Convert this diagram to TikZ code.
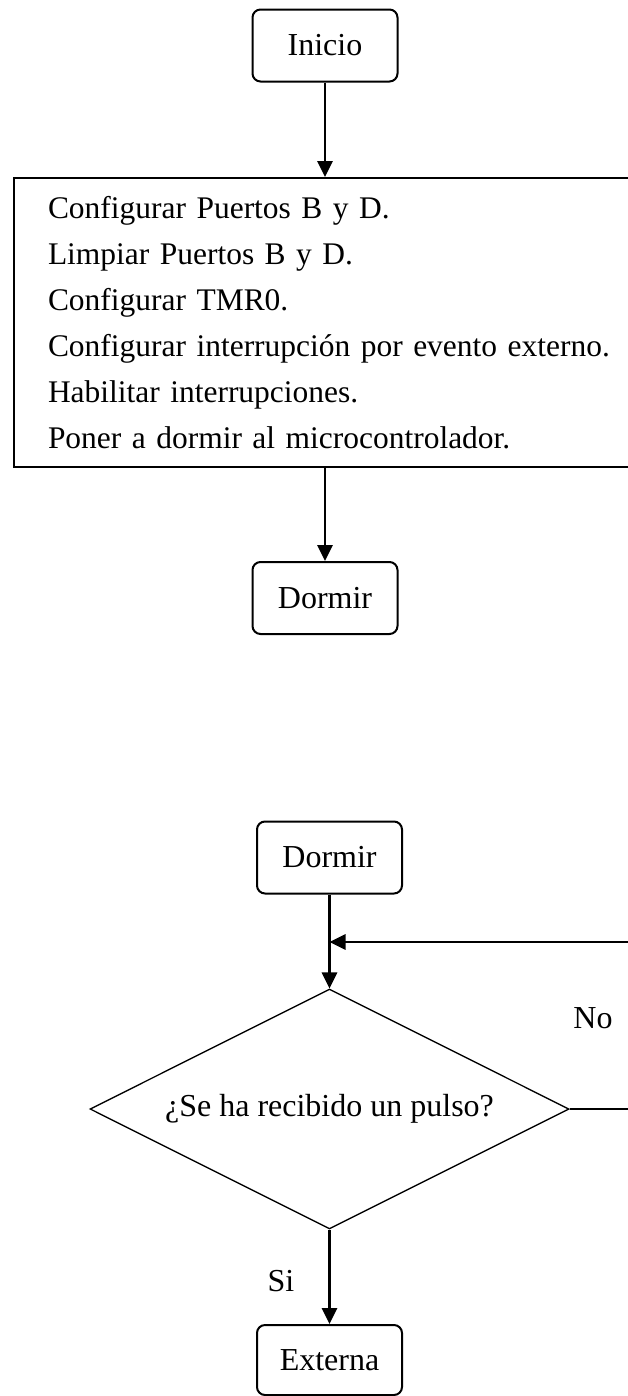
\documentclass[tikz,border=0pt]{standalone}
\usepackage{fontspec}
\setmainfont{Liberation Serif}
\usetikzlibrary{arrows.meta,shapes.geometric}

\tikzset{every picture/.style={line width=0.75pt}}
\tikzset{
  termbox/.style={draw, rounded corners=6pt, line width=1.5pt, inner sep=0pt,
    minimum width=108.75pt, minimum height=54pt, font=\fontsize{24}{28}\selectfont},
  procbox/.style={draw, line width=1.5pt, inner xsep=25.5pt, inner ysep=0pt,
    anchor=north west, minimum width=480pt, minimum height=216.75pt,
    text width=560pt, align=left, font=\fontsize{23.6}{34.5}\selectfont},
  decbox/.style={draw, diamond, aspect=2, line width=1pt, inner sep=0pt,
    minimum width=359.25pt, minimum height=180pt, font=\fontsize{24}{28}\selectfont},
  flow/.style={line width=1.6pt, -{Triangle[length=12pt,width=11.5pt]}},
  lbl/.style={inner sep=0pt, font=\fontsize{24}{28}\selectfont}
}

\begin{document}
\begin{tikzpicture}[x=0.75pt,y=0.75pt,yscale=-1,xscale=1]
\clip (0,0) rectangle (628,1396);

% Nodes
\node [termbox] (inicio) at (325,45.5) {Inicio};
\node [procbox] (config) at (13,177) {Configurar Puertos B y D.\\
Limpiar Puertos B y D.\\
Configurar TMR0.\\
Configurar interrupción por evento externo.\\
Habilitar interrupciones.\\
Poner a dormir al microcontrolador.};
\node [termbox] (dormirA) at (325,598) {Dormir};

\node [termbox] (dormirB) at (329.5,857.5) {Dormir};
\node [decbox] (pulso) at (329.5,1109) {¿Se ha recibido un pulso?};
\node [termbox, minimum height=52.5pt] (externa) at (329.5,1360) {Externa};
\coordinate (merge) at (329.5,942);

% Text Node
\node [lbl] (no) at (593,1018) {No};
% Text Node
\node [lbl] (si) at (281,1281) {Si};

%Straight Lines
\draw [flow] (inicio.south) -- (inicio.south |- config.north);
\draw [flow] (dormirA.north |- config.south) -- (dormirA.north);
\draw [flow] (dormirB.south) -- (pulso.north);
\draw [flow] (pulso.east) -- ++(90,0) |- (merge);
\draw [flow] (pulso.south) -- (externa.north);

\end{tikzpicture}
\end{document}
